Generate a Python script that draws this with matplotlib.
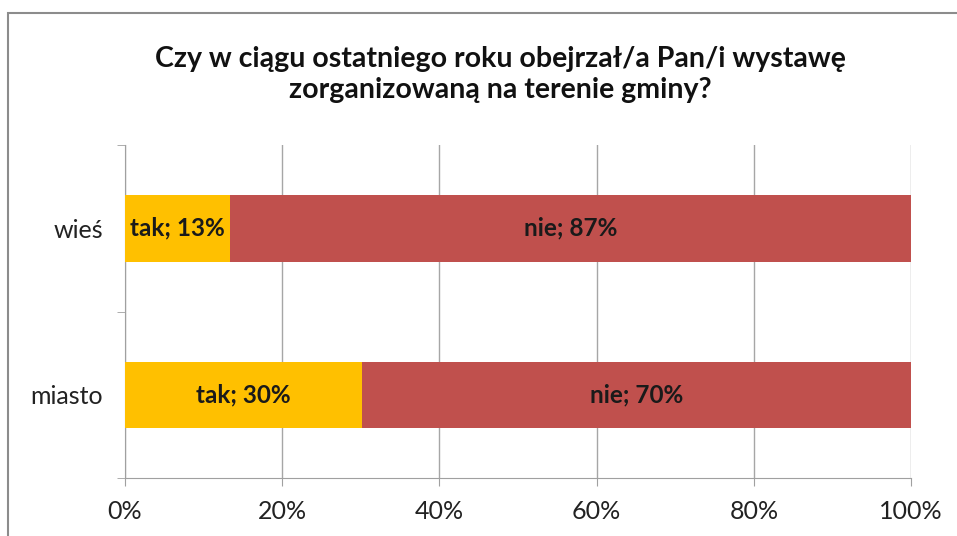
import matplotlib as mpl
mpl.use('Agg')
from matplotlib import pyplot as plt
from matplotlib.patches import Rectangle

categories = ['miasto', 'wieś']
tak = [30.2, 13.4]
nie = [69.8, 86.6]
xticks = [0, 20, 40, 60, 80, 100]
title = 'Czy w ciągu ostatniego roku obejrzał/a Pan/i wystawę\nzorganizowaną na terenie gminy?'

plt.rcParams['font.family'] = ['Lato', 'DejaVu Sans']

fig = plt.figure(figsize=(9.57, 5.36), dpi=100)
ax = fig.add_axes([0.1306, 0.108, 0.8214, 0.6215])

# frame around the chart
fig.patches.append(Rectangle((8 / 957, -0.01), 1.0, 0.986, transform=fig.transFigure,
                             fill=False, edgecolor='#8c8c8c', linewidth=1.5))

ypos = range(len(categories))
ax.barh(ypos, tak, height=0.4, color='#FFC000', zorder=3)
ax.barh(ypos, nie, left=tak, height=0.4, color='#C0504D', zorder=3)

for i in ypos:
    ax.text(tak[i] / 2, i, 'tak; %.0f%%' % tak[i], ha='center', va='center',
            fontsize=17.5, fontweight='bold', color='#1a1a1a', zorder=4)
    ax.text(tak[i] + nie[i] / 2, i, 'nie; %.0f%%' % nie[i], ha='center', va='center',
            fontsize=17.5, fontweight='bold', color='#1a1a1a', zorder=4)

ax.set_xlim(0, 100)
ax.set_ylim(-0.5, 1.5)
ax.set_xticks(xticks)
ax.set_xticklabels(['%d%%' % t for t in xticks], fontsize=18, color='#222222')
ax.set_yticks(list(ypos))
ax.set_yticklabels(categories, fontsize=18, color='#222222')
ax.set_yticks([-0.5, 0.5, 1.5], minor=True)
ax.tick_params(axis='y', which='major', length=0, pad=16)
ax.tick_params(axis='y', which='minor', length=6, color='#a0a0a0')
ax.tick_params(axis='x', length=6, color='#a0a0a0', pad=10)

ax.grid(axis='x', color='#a6a6a6', linewidth=1, zorder=0)
for s in ['top', 'right']:
    ax.spines[s].set_visible(False)
for s in ['left', 'bottom']:
    ax.spines[s].set_color('#a0a0a0')

fig.text(0.523, 0.861, title, ha='center', va='center', fontsize=20.5,
         fontweight='bold', color='#111111', linespacing=1.2)

plt.savefig('out.png', dpi=100)
